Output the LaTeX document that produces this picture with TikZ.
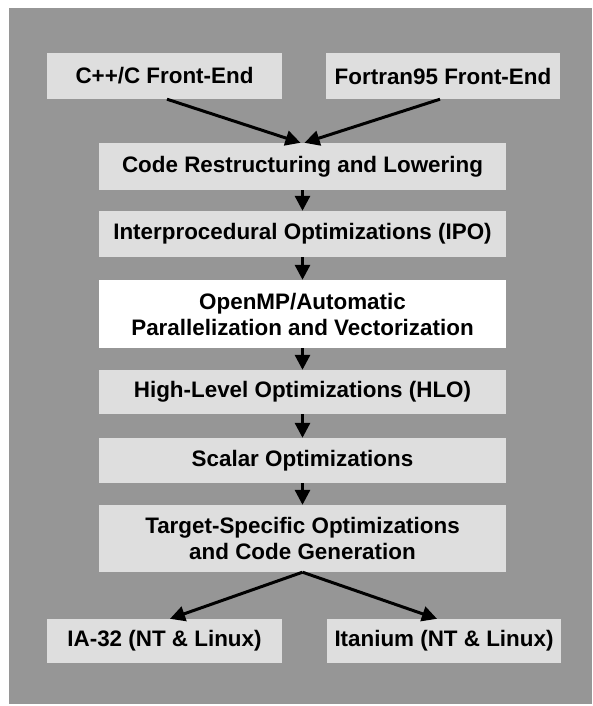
\documentclass[tikz,border=0pt]{standalone}
\usepackage{fontspec}
\setmainfont{Liberation Sans}
\usetikzlibrary{arrows.meta}
\definecolor{panelgray}{gray}{0.59}
\definecolor{boxgray}{gray}{0.87}
\tikzset{
  stage/.style={fill=boxgray, draw=none, inner sep=0pt, align=center,
    font=\bfseries\fontsize{22.4}{26}\selectfont, text=black},
  flow/.style={line width=3pt, -{Triangle[length=15pt,width=15pt]}},
  split/.style={line width=3pt, -{Triangle[length=15pt,width=15pt]}}
}
\begin{document}
\begin{tikzpicture}[x=1pt, y=-1pt]
  \useasboundingbox (0,0) rectangle (592,706);
  \fill[white] (0,0) rectangle (592,706);
  \fill[panelgray] (9,8) rectangle (592,704);

  % front ends
  \node[stage, minimum width=235pt, minimum height=46pt] (cfe) at (164.5,76) {C++/C Front-End};
  \node[stage, minimum width=234pt, minimum height=46pt] (ffe) at (443,76) {Fortran95 Front-End};

  % central pipeline
  \node[stage, minimum width=407pt, minimum height=47pt] (crl) at (302.5,166.5) {Code Restructuring and Lowering};
  \node[stage, minimum width=407pt, minimum height=46pt] (ipo) at (302.5,234) {Interprocedural Optimizations (IPO)};
  \node[stage, fill=white, minimum width=407pt, minimum height=68pt] (omp) at (302.5,314) {OpenMP/Automatic\\Parallelization and Vectorization};
  \node[stage, minimum width=407pt, minimum height=44pt] (hlo) at (302.5,392) {High-Level Optimizations (HLO)};
  \node[stage, minimum width=407pt, minimum height=45pt] (sca) at (302.5,460.5) {Scalar Optimizations};
  \node[stage, minimum width=407pt, minimum height=67pt] (tgt) at (302.5,538.5) {Target-Specific Optimizations\\and Code Generation};

  % targets
  \node[stage, minimum width=235pt, minimum height=44pt] (ia) at (164.5,641) {IA-32 (NT \& Linux)};
  \node[stage, minimum width=234pt, minimum height=44pt] (ita) at (444,641) {Itanium (NT \& Linux)};

  % connectors
  \draw[flow] ([xshift=2.5pt]cfe.south) -- ([xshift=-2pt]crl.north);
  \draw[flow] ([xshift=-3pt]ffe.south) -- ([xshift=2pt]crl.north);
  \draw[flow] (crl.south) -- (ipo.north);
  \draw[flow] (ipo.south) -- (omp.north);
  \draw[flow] (omp.south) -- (hlo.north);
  \draw[flow] (hlo.south) -- (sca.north);
  \draw[flow] (sca.south) -- (tgt.north);
  \draw[split] (tgt.south) -- ([xshift=5.5pt]ia.north);
  \draw[split] (tgt.south) -- ([xshift=-7pt]ita.north);
\end{tikzpicture}
\end{document}
